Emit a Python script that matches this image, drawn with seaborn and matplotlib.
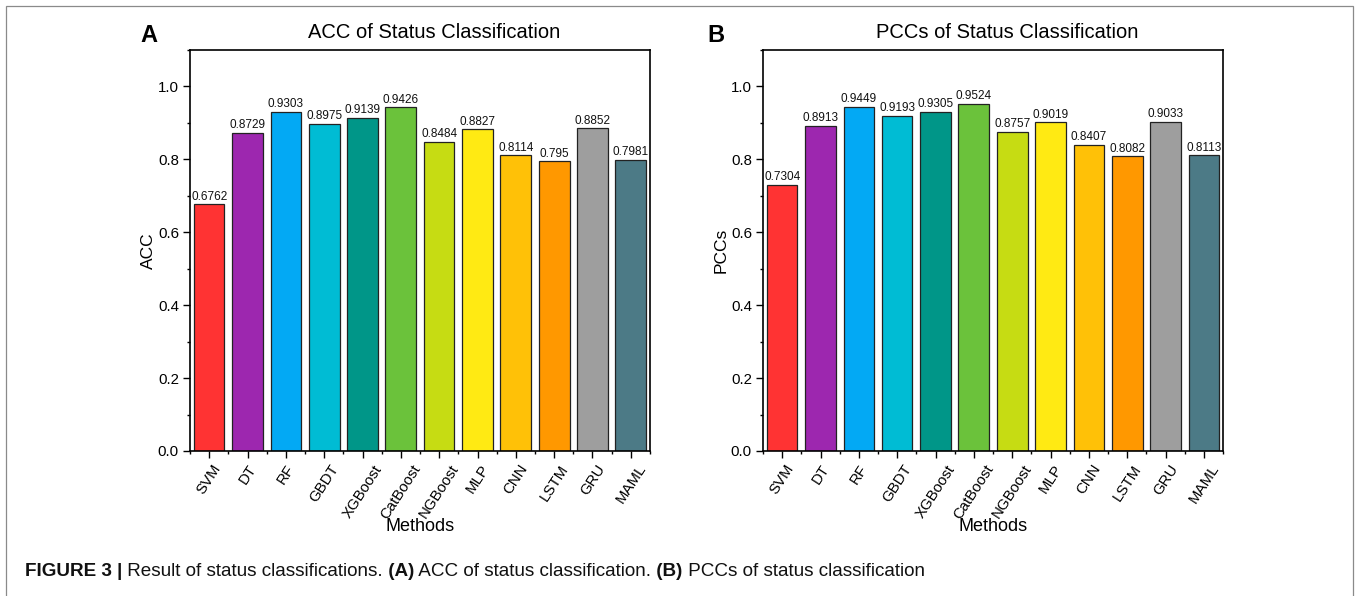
import matplotlib
matplotlib.use("Agg")
import matplotlib.pyplot as plt
import seaborn as sns
import pandas as pd
from matplotlib import font_manager
from matplotlib.patches import Rectangle
from matplotlib.ticker import MultipleLocator, FixedLocator

# ---------------- data ----------------
methods = ["SVM", "DT", "RF", "GBDT", "XGBoost", "CatBoost", "NGBoost",
           "MLP", "CNN", "LSTM", "GRU", "MAML"]
acc_values = [0.6762, 0.8729, 0.9303, 0.8975, 0.9139, 0.9426, 0.8484,
              0.8827, 0.8114, 0.795, 0.8852, 0.7981]
pcc_values = [0.7304, 0.8913, 0.9449, 0.9193, 0.9305, 0.9524, 0.8757,
              0.9019, 0.8407, 0.8082, 0.9033, 0.8113]
bar_colors = ["#FF3333", "#9D27AF", "#03A9F4", "#00BCD4", "#009688", "#6BC23B",
              "#C6DC13", "#FFEA13", "#FFC107", "#FF9800", "#9E9E9E", "#4C7A86"]
panel_titles = ["ACC of Status Classification", "PCCs of Status Classification"]
y_labels = ["ACC", "PCCs"]
panel_letters = ["A", "B"]

sns.set_theme(style="white")
plt.rcParams["font.family"] = ["Liberation Sans", "DejaVu Sans"]
plt.rcParams.update({"text.color": "black", "axes.labelcolor": "black",
                     "xtick.color": "black", "ytick.color": "black"})

W, H = 1356, 596
fig = plt.figure(figsize=(W / 100, H / 100), dpi=100)

def fx(px):
    return px / W

def fy(py):
    return 1 - py / H

axes_lefts = [190, 763]
ax_w, ax_top, ax_bot = 460, 50, 451

palette = dict(zip(methods, bar_colors))
datasets = [acc_values, pcc_values]

for i in range(2):
    ax = fig.add_axes([fx(axes_lefts[i]), fy(ax_bot), fx(ax_w), (ax_bot - ax_top) / H])
    df = pd.DataFrame({"Method": methods, "Value": datasets[i]})
    sns.barplot(data=df, x="Method", y="Value", hue="Method", palette=palette,
                legend=False, width=0.8, edgecolor="#222222", linewidth=0.9,
                saturation=1, ax=ax)
    for cont in ax.containers:
        ax.bar_label(cont, fmt=lambda v: f"{v:g}", padding=1.2, fontsize=8.5,
                     color="#111111")
    ax.set_xlim(-0.5, len(methods) - 0.5)
    ax.set_ylim(0, 1.1)
    ax.yaxis.set_major_locator(FixedLocator([0, 0.2, 0.4, 0.6, 0.8, 1.0]))
    ax.set_yticklabels(["0.0", "0.2", "0.4", "0.6", "0.8", "1.0"])
    ax.yaxis.set_minor_locator(MultipleLocator(0.1))
    ax.xaxis.set_minor_locator(FixedLocator([k + 0.5 for k in range(-1, len(methods))]))
    ax.tick_params(axis="both", which="major", direction="out", length=5,
                   width=1.0, color="black", labelsize=10.8, pad=3,
                   bottom=True, left=True, labelcolor="black")
    ax.tick_params(axis="both", which="minor", direction="out", length=2.5,
                   width=1.0, color="black", bottom=True, left=True)
    ax.set_xticks(range(len(methods)))
    ax.set_xticklabels(methods, rotation=57, ha="center", va="top")
    for sp in ax.spines.values():
        sp.set_visible(True)
        sp.set_color("black")
        sp.set_linewidth(1.2)
    ax.set_xlabel("Methods", fontsize=13, color="black")
    ax.set_ylabel(y_labels[i], fontsize=12.5, color="black")
    ax.xaxis.set_label_coords(0.5, -0.168)
    ax.yaxis.set_label_coords(-0.075, 0.5)
    ax.set_title(panel_titles[i], fontsize=14.5, x=0.53, pad=8.5, color="black")
    ax.set_facecolor("white")

fig.text(fx(140), fy(42), "A", fontsize=17, fontweight="bold", ha="left", va="baseline")
fig.text(fx(707), fy(42), "B", fontsize=17, fontweight="bold", ha="left", va="baseline")

# figure border (open at bottom)
fig.patches.append(Rectangle((fx(6), fy(650)), fx(1347), (650 - 6) / H,
                             transform=fig.transFigure, fill=False,
                             edgecolor="#8a8a8a", linewidth=0.9, clip_on=False))

# caption
names = {f.name for f in font_manager.fontManager.ttflist}
cap_family = ["Liberation Sans Narrow", "Liberation Sans"] if "Liberation Sans Narrow" in names else ["Liberation Sans"]
cap_size = 12 if "Liberation Sans Narrow" in names else 13.6
pieces = [("FIGURE 3 |", "bold"), (" Result of status classifications.", "normal"),
          (" (A)", "bold"), (" ACC of status classification.", "normal"),
          (" (B)", "bold"), (" PCCs of status classification", "normal")]
renderer = fig.canvas.get_renderer()
xpix = 25
for txt, wt in pieces:
    t = fig.text(fx(xpix), fy(576), txt, fontsize=cap_size, fontweight=wt,
                 family=cap_family, ha="left", va="baseline", color="#111111")
    bb = t.get_window_extent(renderer)
    xpix = bb.x1

fig.savefig("out.png", dpi=100, facecolor="white")
